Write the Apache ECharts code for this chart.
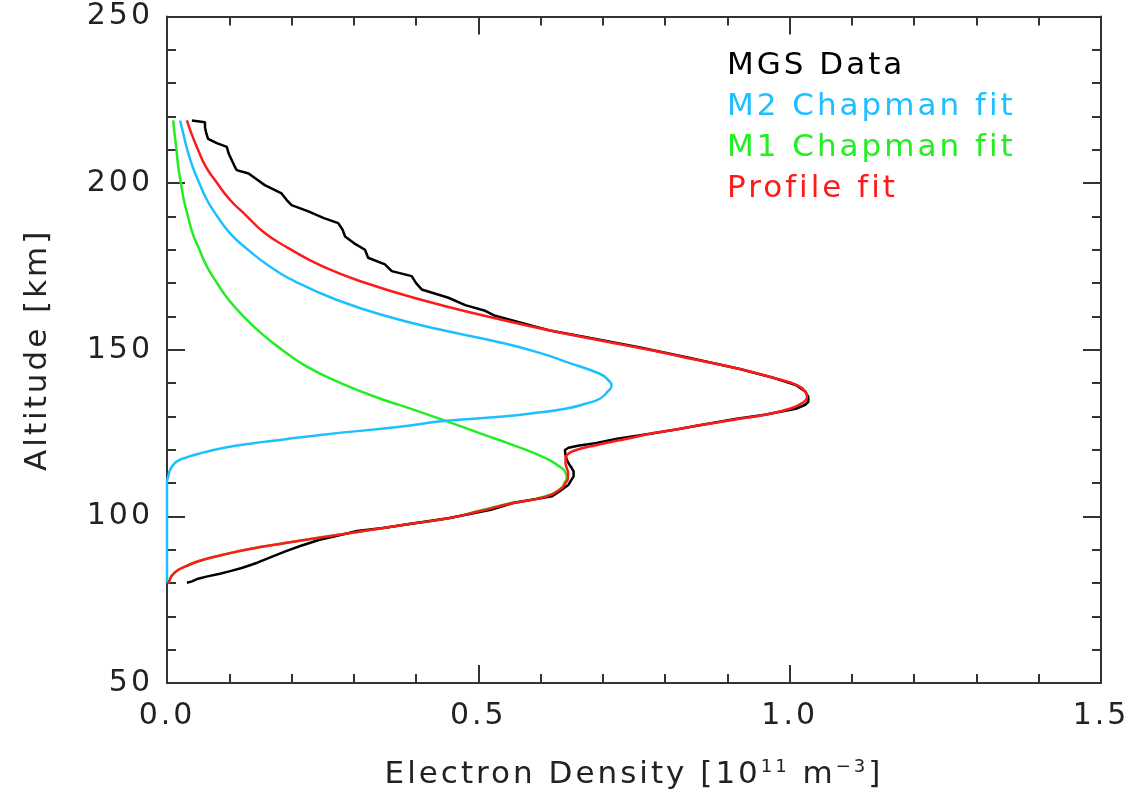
<!DOCTYPE html>
<html>
<head>
<meta charset="utf-8">
<script src="https://cdn.jsdelivr.net/npm/echarts@6/dist/echarts.min.js"></script>
<style>
html,body{margin:0;padding:0;background:#fff;}
#chart{width:1135px;height:801px;}
</style>
</head>
<body>
<div id="chart"></div>
<script>
// ---- Data (altitude in km, density in 1e11 m^-3) ----
const xTicks = [0.0, 0.5, 1.0, 1.5];
const yTicks = [50, 100, 150, 200, 250];

const mgsAlt = [218.8,218.3,216.8,215.0,213.3,212.0,210.9,208.9,206.5,204.9,203.9,202.9,201.0,199.4,196.9,195.0,193.4,191.5,189.5,188.0,186.0,184.0,182.0,180.0,177.6,175.6,173.6,172.1,170.0,168.1,165.6,163.4,161.7,160.2,157.2,155.8,153.5,150.7,147.5,144.2,141.5,139.4,137.5,135.8,134.4,133.5,132.3,130.5,129.3,127.5,126.0,124.8,123.3,122.0,121.2,120.6,119.9,118.5,117.0,115.6,114.5,113.5,112.0,110.5,109.5,107.5,106.0,104.0,102.0,100.5,99.5,98.0,96.5,95.6,94.0,93.0,91.1,89.5,88.0,86.1,84.5,83.5,82.8,82.0,81.3,80.5,80.1];
const mgsDen = [0.040,0.061,0.061,0.063,0.066,0.080,0.096,0.099,0.105,0.109,0.112,0.131,0.145,0.157,0.184,0.192,0.200,0.227,0.252,0.275,0.282,0.286,0.300,0.318,0.323,0.350,0.361,0.393,0.400,0.409,0.452,0.479,0.511,0.527,0.586,0.615,0.680,0.760,0.840,0.920,0.975,1.010,1.025,1.030,1.030,1.025,1.010,0.960,0.915,0.860,0.815,0.776,0.723,0.690,0.660,0.645,0.639,0.640,0.642,0.646,0.650,0.653,0.653,0.648,0.645,0.630,0.618,0.556,0.520,0.480,0.454,0.400,0.347,0.305,0.270,0.245,0.214,0.190,0.170,0.145,0.120,0.100,0.085,0.065,0.050,0.040,0.032];

const m2Alt = [218.8,215,210.4,205,200.4,195,190.5,185,180.5,175,170.1,165,160.2,156,152.2,149,146.3,142.8,141,139.3,137.5,135.3,133.8,132.4,131,129.9,128.6,126.9,124.5,123,121.8,120.5,118.9,117.5,116.5,115,113.5,112,110.5,80];
const m2Den = [0.021,0.026,0.032,0.041,0.051,0.064,0.079,0.101,0.127,0.165,0.210,0.272,0.350,0.440,0.535,0.600,0.642,0.695,0.708,0.714,0.708,0.695,0.672,0.642,0.590,0.535,0.444,0.374,0.250,0.185,0.133,0.090,0.053,0.028,0.016,0.008,0.004,0.002,0.0,0.0];

const m1Alt = [218.8,215,210.4,205,200.4,195,190.5,185,180.5,175,170.1,165,160.2,155,150.1,145,140,135,133.4,128.9,124.9,121.4,117.5,115,113.5,111.5,110,108.5,106,104,101.6,99.5,98,96.5,95,93.5,92,90.2,88.5,86.7,85,83.7,82,80.1,80];
const m1Den = [0.010,0.012,0.015,0.018,0.022,0.027,0.033,0.041,0.051,0.064,0.080,0.099,0.122,0.151,0.184,0.224,0.279,0.347,0.374,0.444,0.503,0.556,0.608,0.630,0.639,0.642,0.638,0.634,0.607,0.553,0.500,0.454,0.400,0.347,0.295,0.241,0.190,0.133,0.090,0.053,0.030,0.016,0.007,0.002,0.0];

const fitAlt = [218.8,215,210.4,205,200.4,195,190.5,185,180.5,175,170.1,165,160.3,155.8,153,149.9,147,144.2,141.5,139.4,137.5,135.8,134,132.3,130.5,129.3,127.5,126,124.5,123.5,122.4,121.2,120.2,119.4,118.5,117.5,116,114.5,113,111.5,110,108.5,106,104,101.6,99.5,98,96.5,95,93.5,92,90.2,88.5,86.7,85,83.7,82,80.1,80];
const fitDen = [0.032,0.039,0.049,0.062,0.079,0.101,0.126,0.157,0.195,0.250,0.318,0.408,0.508,0.615,0.690,0.776,0.850,0.920,0.975,1.012,1.025,1.028,1.020,1.000,0.960,0.920,0.860,0.815,0.768,0.745,0.715,0.685,0.662,0.650,0.643,0.640,0.640,0.642,0.644,0.644,0.640,0.634,0.610,0.556,0.503,0.454,0.400,0.347,0.295,0.241,0.190,0.133,0.090,0.053,0.030,0.016,0.007,0.002,0.0];

const names = ['MGS Data', 'M2 Chapman fit', 'M1 Chapman fit', 'Profile fit'];
const colors = ['#000000', '#1ebfff', '#22ee22', '#ff1a1a'];

function pairs(den, alt){ return den.map((d,i)=>[d, alt[i]]); }

// IDL vector-font look: slightly wider letter spacing for all canvas text
(function(){
  const P = CanvasRenderingContext2D.prototype;
  const of = P.fillText, om = P.measureText;
  P.fillText = function(){ this.letterSpacing = '3px'; return of.apply(this, arguments); };
  P.measureText = function(){ this.letterSpacing = '3px'; return om.apply(this, arguments); };
})();

const FONT = 'DejaVu Sans';
const TXT = '#222';
const AX = '#333';

const chart = echarts.init(document.getElementById('chart'), null, {renderer:'canvas'});

function xAx(pos, showLabel){
  return {
    type:'value', position:pos, min:0, max:1.5, interval:0.5,
    axisLine:{show:true, onZero:false, lineStyle:{color:AX, width:2}},
    axisTick:{show:true, inside:true, length:18, lineStyle:{color:AX, width:2}},
    minorTick:{show:true, splitNumber:5, length:9, lineStyle:{color:AX, width:2}},
    splitLine:{show:false},
    axisLabel:{show:showLabel, margin:17, color:TXT, fontFamily:FONT, fontSize:30,
      formatter:v=>v.toFixed(1)},
    name: showLabel ? 'Electron Density [10{sup|11} m{sup|−3}]' : '',
    nameLocation:'middle', nameGap:74,
    nameTextStyle:{color:TXT, fontFamily:FONT, fontSize:31,
      rich:{sup:{fontSize:18, verticalAlign:'top', color:TXT, fontFamily:FONT, padding:[0,0,14,0]}}}
  };
}
function yAx(pos, showLabel){
  return {
    type:'value', position:pos, min:50, max:250, interval:50,
    axisLine:{show:true, onZero:false, lineStyle:{color:AX, width:2}},
    axisTick:{show:true, inside:true, length:18, lineStyle:{color:AX, width:2}},
    minorTick:{show:true, splitNumber:5, length:9, lineStyle:{color:AX, width:2}},
    splitLine:{show:false},
    axisLabel:{show:showLabel, margin:14, color:TXT, fontFamily:FONT, fontSize:30},
    name: showLabel ? 'Altitude [km]' : '',
    nameLocation:'middle', nameRotate:90, nameGap:112,
    nameTextStyle:{color:TXT, fontFamily:FONT, fontSize:31}
  };
}

const series = [
  {name:names[2], den:m1Den, alt:m1Alt, c:colors[2], smooth:0.5},
  {name:names[1], den:m2Den, alt:m2Alt, c:colors[1], smooth:0.5},
  {name:names[0], den:mgsDen, alt:mgsAlt, c:colors[0], smooth:false},
  {name:names[3], den:fitDen, alt:fitAlt, c:colors[3], smooth:0.5}
].map(s=>({
  name:s.name, type:'line', data:pairs(s.den, s.alt), showSymbol:false, symbol:'none',
  smooth:s.smooth, lineStyle:{color:s.c, width:2.5}, itemStyle:{color:s.c},
  animation:false, clip:true
}));

chart.setOption({
  backgroundColor:'#fff',
  animation:false,
  grid:{left:167, right:34, top:12, bottom:118, containLabel:false},
  xAxis:[xAx('bottom', true), xAx('top', false)],
  yAxis:[yAx('left', true), yAx('right', false)],
  legend:{
    show:true, orient:'vertical', left:722, top:44, icon:'none',
    itemWidth:0, itemHeight:14, itemGap:7, selectedMode:false,
    textStyle:{fontFamily:FONT, fontSize:31, lineHeight:32, padding:[0,0,0,-6]},
    data:names.map((n,i)=>({name:n, textStyle:{color:colors[i]}}))
  },
  series:series
});
</script>
</body>
</html>
